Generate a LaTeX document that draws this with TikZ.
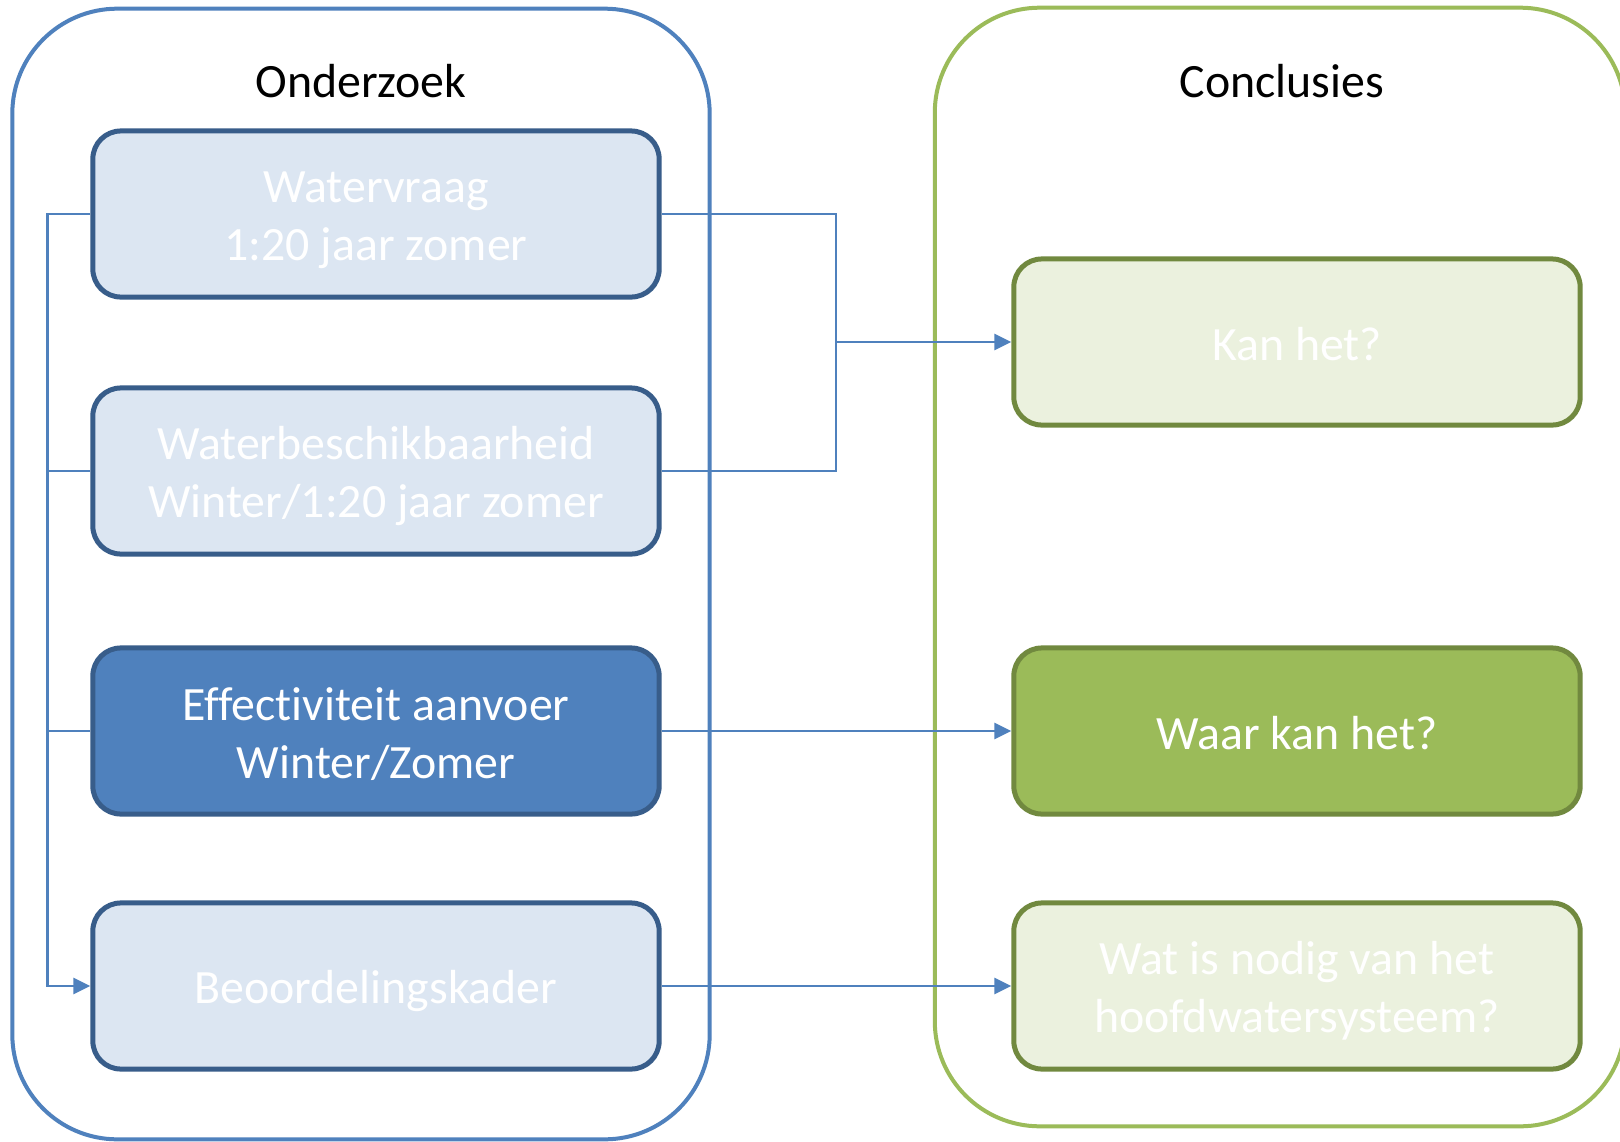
\documentclass[tikz,border=0pt]{standalone}
\usepackage{fontspec}
\setmainfont{Carlito}[Ligatures=NoCommon]
\usetikzlibrary{arrows.meta}
\definecolor{accblue}{HTML}{4F81BD}
\definecolor{darkblue}{HTML}{385D8A}
\definecolor{lightblue}{HTML}{DCE6F2}
\definecolor{accgreen}{HTML}{9BBB59}
\definecolor{darkgreen}{HTML}{71893F}
\definecolor{lightgreen}{HTML}{EBF1DE}
\newcommand\lnstrut{\rule[-0.11em]{0pt}{1.01em}}
\begin{document}
\begin{tikzpicture}[x=0.01cm,y=-0.01cm,
  container/.style={draw, line width=0.04cm, rounded corners=1.05cm, inner sep=0pt},
  titletext/.style={text=black, font=\fontsize{13.6}{16.5}\selectfont, inner sep=0pt},
  boxbase/.style={line width=0.05cm, rounded corners=0.28cm, minimum width=5.66cm, minimum height=1.66cm,
    align=center, text=white, font=\fontsize{13.6}{16.5}\selectfont, inner sep=0pt},
  bluebox/.style={boxbase, draw=darkblue, fill=lightblue},
  bluedark/.style={boxbase, draw=darkblue, fill=accblue},
  greenbox/.style={boxbase, draw=darkgreen, fill=lightgreen},
  greendark/.style={boxbase, draw=darkgreen, fill=accgreen},
  conn/.style={draw=accblue, line width=0.025cm},
  tip/.style={-{Triangle[length=0.17cm,width=0.16cm]}}
]
\useasboundingbox (0,0) rectangle (1620,1142);
\clip (0,0) rectangle (1620,1142);
\fill[white] (0,0) rectangle (1620,1142);

% containers
\node[container, draw=accblue, minimum width=6.97cm, minimum height=11.30cm] (ond) at (361,574) {};
\node[container, draw=accgreen, minimum width=6.90cm, minimum height=11.18cm] (con) at (1280,567) {};
\node[titletext] (ondt) at (361,81) {Onderzoek};
\node[titletext] (cont) at (1282,81) {Conclusies};

% left boxes
\node[bluebox] (w) at (376,214) {\lnstrut Watervraag\\\lnstrut 1:20 jaar zomer};
\node[bluebox] (wb) at (376,471) {\lnstrut Waterbeschikbaarheid\\\lnstrut Winter/1:20 jaar zomer};
\node[bluedark] (e) at (376,731) {\lnstrut Effectiviteit aanvoer\\\lnstrut Winter/Zomer};
\node[bluebox] (b) at (376,986) {\lnstrut Beoordelingskader};

% right boxes
\node[greenbox] (kan) at (1297,342) {\lnstrut Kan het?};
\node[greendark] (waar) at (1297,731) {\lnstrut Waar kan het?};
\node[greenbox] (wat) at (1297,986) {\lnstrut Wat is nodig van het\\\lnstrut hoofdwatersysteem?};

% connectors left bus
\coordinate (bus) at (47.5,0);
\draw[conn, tip] (w.west) -| (bus |- wb.west) |- (b.west);
\draw[conn] (wb.west) -- (bus |- wb.west);
\draw[conn] (e.west) -- (bus |- e.west);

% connectors right
\coordinate (j) at (836,342);
\draw[conn] (w.east) -| (j) |- (wb.east);
\draw[conn, tip] (j) -- (kan.west);
\draw[conn, tip] (e.east) -- (waar.west);
\draw[conn, tip] (b.east) -- (wat.west);
\end{tikzpicture}
\end{document}
